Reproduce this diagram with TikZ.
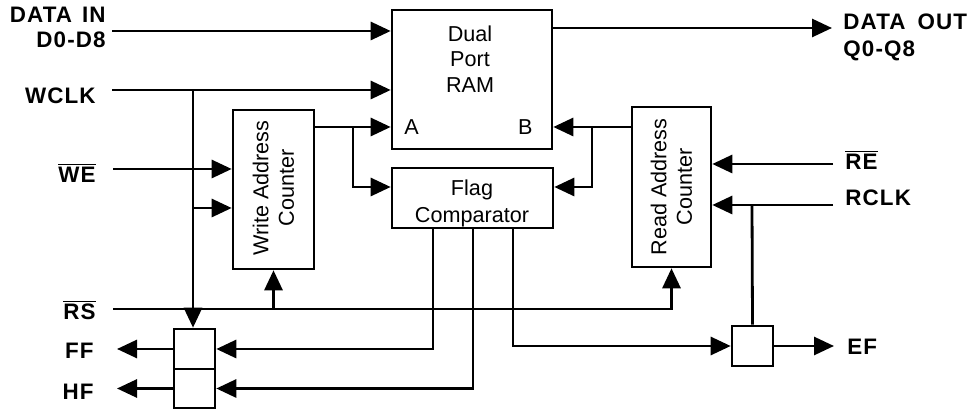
\documentclass[tikz,border=0pt]{standalone}
\usepackage{fontspec}
\setmainfont{Liberation Sans}
\newfontfamily\lblfont[LetterSpace=5]{Liberation Sans}
\usetikzlibrary{arrows.meta}
\newcommand\ovl[1]{$\overline{\mbox{#1}}$}
\begin{document}
\begin{tikzpicture}[x=0.5pt,y=-0.5pt, line width=1.4pt,
  box/.style={draw, line width=1.3pt, inner sep=0pt},
  sig/.style={-{Triangle[length=10pt,width=9pt]}},
  lbl/.style={font=\lblfont\bfseries\fontsize{11.2}{13}\selectfont, inner sep=0pt},
  txt/.style={font=\fontsize{10.8}{12.75}\selectfont, inner sep=0pt, align=center}]
\useasboundingbox (0,0) rectangle (979,410);
% blocks
\node[box, minimum width=80pt, minimum height=69.5pt] (ram) at (472,79.5) {};
\node[box, minimum width=80.5pt, minimum height=30pt] (cmp) at (472.5,198) {};
\node[box, minimum width=40.5pt, minimum height=79.5pt] (wac) at (273.5,189.5) {};
\node[box, minimum width=39.5pt, minimum height=80pt] (rac) at (671.5,187) {};
\node[box, minimum width=20.5pt, minimum height=20pt] (ffb) at (194.5,349) {};
\node[box, minimum width=20.5pt, minimum height=19.5pt] (hfb) at (194.5,388.5) {};
\node[box, minimum width=20.5pt, minimum height=20pt] (efb) at (752.5,346) {};
% block texts
\node[txt, anchor=base] (t1) at (470,42) {Dual};
\node[txt, anchor=base] (t2) at (470,67) {Port};
\node[txt, anchor=base] (t3) at (470,93) {RAM};
\node[txt, anchor=base west] (ta) at (403,135) {A};
\node[txt, anchor=base east] (tb) at (534,135) {B};
\node[txt, anchor=base] (t4) at (472,196) {Flag};
\node[txt, anchor=base] (t5) at (472,223) {Comparator};
\node[txt, rotate=90] (t6) at (273.5,188) {Write Address\\Counter};
\node[txt, rotate=90] (t7) at (671.5,187) {Read Address\\Counter};
% left labels
\node[lbl, anchor=base east] (l1) at (107,23) {DATA\hspace{5pt}IN};
\node[lbl, anchor=base east] (l2) at (107,48) {D0-D8};
\node[lbl, anchor=base east] (l3) at (97,104) {WCLK};
\node[lbl, anchor=base east] (l4) at (97,183) {\ovl{WE}};
\node[lbl, anchor=base east] (l5) at (97,320) {\ovl{RS}};
\node[lbl, anchor=base east] (l6) at (95,359) {FF};
\node[lbl, anchor=base east] (l7) at (95,400) {HF};
% right labels
\node[lbl, anchor=base west] (r1) at (842,30) {DATA\hspace{6pt}OUT};
\node[lbl, anchor=base west] (r2) at (842,57) {Q0-Q8};
\node[lbl, anchor=base west] (r3) at (844,170) {\ovl{RE}};
\node[lbl, anchor=base west] (r4) at (844,206) {RCLK};
\node[lbl, anchor=base west] (r5) at (846,355) {EF};
% coordinates
\coordinate (din) at (112,31);
\coordinate (wclk) at (112,90);
\coordinate (wj) at (193,90);
\coordinate (wb) at (193,208);
\coordinate (we) at (113,169);
\coordinate (rs) at (113,309);
\coordinate (wo) at (353,127);
\coordinate (ro) at (592,127);
\coordinate (dout) at (832,28);
\coordinate (re) at (833,164);
\coordinate (rclk) at (833,205);
\coordinate (rj) at (752,205);
\coordinate (fft) at (433,228);
\coordinate (hft) at (473,228);
\coordinate (eft) at (513,228);
\coordinate (ffo) at (117,349);
\coordinate (hfo) at (117,388.5);
\coordinate (efo) at (834,346);
% connectors
\draw[sig] (din) -- (din -| ram.west);
\draw[sig] (wclk) -- (wclk -| ram.west);
\draw[sig] (wj) -- (wj |- ffb.north);
\draw[sig] (wb) -- (wb -| wac.west);
\draw[sig] (we) -- (we -| wac.west);
\draw[sig] (wac.east |- wo) -- (ram.west |- wo);
\draw[sig] (wo) |- (cmp.west |- 0,187);
\draw[sig] (rac.west |- ro) -- (ram.east |- ro);
\draw[sig] (ro) |- (cmp.east |- 0,187);
\draw[sig] (ram.east |- dout) -- (dout);
\draw[sig] (re) -- (re -| rac.east);
\draw[sig] (rclk) -- (rclk -| rac.east);
\draw (rj) -- (efb.north);
\draw[sig] (rs) -| (rac.south);
\draw[sig] (wac.south |- rs) -- (wac.south);
\draw[sig] (fft) |- (ffb.east);
\draw[sig] (hft) |- (hfb.east);
\draw[sig] (eft) |- (efb.west);
\draw[sig] (ffb.west) -- (ffo);
\draw[sig] (hfb.west) -- (hfo);
\draw[sig] (efb.east) -- (efo);
\end{tikzpicture}
\end{document}
